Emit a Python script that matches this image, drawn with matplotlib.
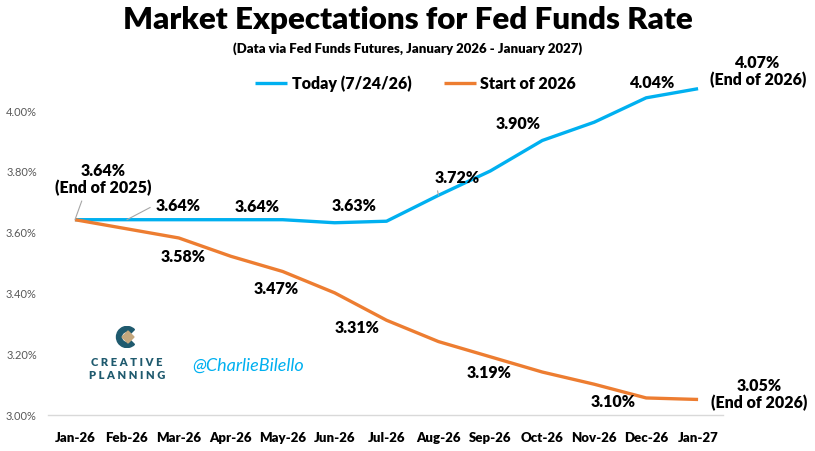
import numpy as np
import matplotlib.pyplot as plt
from matplotlib.patches import Wedge, Polygon

plt.rcParams['font.family'] = ['Lato', 'DejaVu Sans']

# Data
months = ["Jan-26", "Feb-26", "Mar-26", "Apr-26", "May-26", "Jun-26", "Jul-26",
          "Aug-26", "Sep-26", "Oct-26", "Nov-26", "Dec-26", "Jan-27"]
today = [3.64, 3.64, 3.64, 3.64, 3.64, 3.63, 3.635, 3.72, 3.80, 3.90, 3.96, 4.04, 4.07]
start_2026 = [3.64, 3.61, 3.58, 3.52, 3.47, 3.40, 3.31, 3.24, 3.19, 3.14, 3.10, 3.055, 3.05]

BLUE = "#00B0F0"
ORANGE = "#ED7D31"
TEAL = "#1F5A6E"

fig = plt.figure(figsize=(8.15, 4.52), dpi=100)
ax = fig.add_axes([48 / 815, 0.0803, 675 / 815, 0.755])

x = np.arange(len(months))
ax.plot(x, today, color=BLUE, lw=2.4, label="Today (7/24/26)", solid_capstyle="butt")
ax.plot(x, start_2026, color=ORANGE, lw=2.4, label="Start of 2026", solid_capstyle="butt")

ax.set_xlim(-0.52, 12.48)
ax.set_ylim(3.0, 4.12)
yt = np.arange(3.0, 4.01, 0.2)
ax.set_yticks(yt)
ax.set_yticklabels([f"{v:.2f}%" for v in yt], fontsize=8, color="#595959")
ax.set_xticks(x)
ax.set_xticklabels(months, fontsize=9.5, fontweight="heavy")
ax.tick_params(length=0, pad=12)
ax.tick_params(axis="y", pad=8)
for side in ["top", "right", "left"]:
    ax.spines[side].set_visible(False)
ax.spines["bottom"].set_color("#D9D9D9")
ax.spines["bottom"].set_linewidth(1.0)

# data labels: (series, index, dx px, dy px, text, leader line)
labels = [
    (today, 0, 28, 41, "3.64%\n(End of 2025)", True),
    (today, 1, 51, 15, "3.64%", True),
    (today, 3, 26, 14, "3.64%", False),
    (today, 5, 19, 18, "3.63%", False),
    (today, 7, 19, 18, "3.72%", True),
    (today, 9, -24, 17, "3.90%", False),
    (today, 11, 6, 16, "4.04%", False),
    (today, 12, 60, 18, "4.07%\n(End of 2026)", False),
    (start_2026, 2, 4, -18, "3.58%", False),
    (start_2026, 4, -7, -17, "3.47%", False),
    (start_2026, 6, -29, -7, "3.31%", False),
    (start_2026, 8, -1, -15, "3.19%", False),
    (start_2026, 10, 19, -17, "3.10%", False),
    (start_2026, 12, 61, 6, "3.05%\n(End of 2026)", False),
]
for series, i, dx, dy, txt, leader in labels:
    arrow = None
    if leader:
        arrow = dict(arrowstyle="-", color="#A6A6A6", lw=0.8, shrinkA=2, shrinkB=0,
                     relpos=(0.0, 0.5) if "\n" not in txt else (0.3, 0.0))
    ax.annotate(txt, xy=(i, series[i]), xytext=(dx, dy), textcoords="offset pixels",
                ha="center", va="center", fontsize=11.5, fontweight="heavy",
                linespacing=1.1, arrowprops=arrow)

# title and subtitle
fig.text(0.5, 0.955, "Market Expectations for Fed Funds Rate", ha="center", va="center",
         fontsize=22.5, fontweight="heavy")
fig.text(0.5, 0.893, "(Data via Fed Funds Futures, January 2026 - January 2027)",
         ha="center", va="center", fontsize=9.5, fontweight="heavy")

# legend
fig.legend(loc="center", bbox_to_anchor=(0.51, 0.814), ncol=2, frameon=False,
           prop=dict(size=11.5, weight="heavy"), handlelength=2.0, handletextpad=0.3,
           columnspacing=2.0)

# watermark / logo
lax = fig.add_axes([107 / 815, 1 - 349 / 452, 40 / 815, 22 / 452])
lax.set_xlim(-20, 20)
lax.set_ylim(-11, 11)
lax.set_aspect("equal")
lax.axis("off")
lax.add_patch(Wedge((0, 0), 10.5, 45, 315, width=5, color=TEAL))
lax.add_patch(Polygon([(1, 6), (7, 0), (1, -6), (-5, 0)], color="#C4A77D"))
fig.text(127 / 815, 1 - 363 / 452, "C R E A T I V E", ha="center", va="center",
         fontsize=8, fontweight="heavy", color=TEAL)
fig.text(127 / 815, 1 - 376 / 452, "P L A N N I N G", ha="center", va="center",
         fontsize=8, fontweight="heavy", color=TEAL)
fig.text(248 / 815, 1 - 366 / 452, "@CharlieBilello", ha="center", va="center",
         fontsize=13, style="italic", color=BLUE)

fig.savefig("out.png", dpi=100)
